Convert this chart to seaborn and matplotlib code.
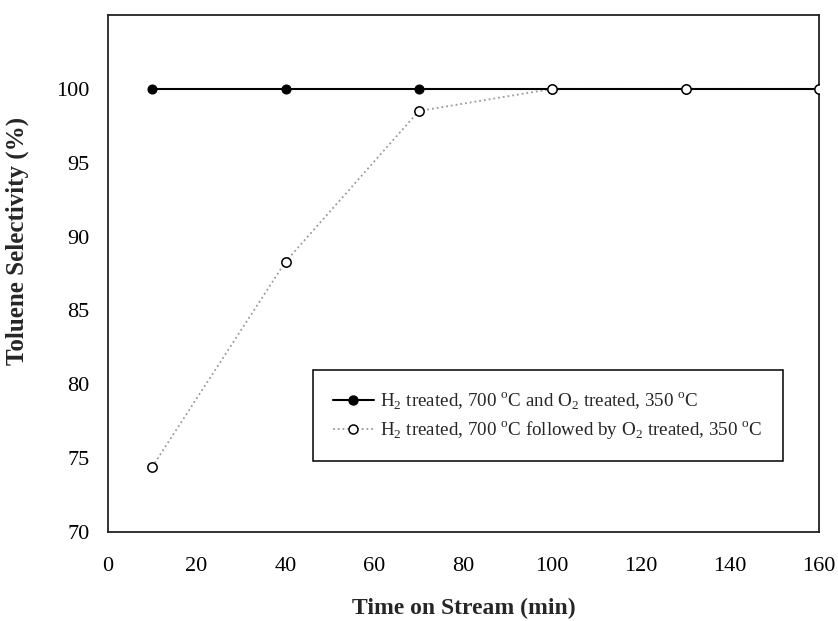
import matplotlib
matplotlib.use("Agg")
import matplotlib.pyplot as plt
from matplotlib.lines import Line2D
import seaborn as sns
import pandas as pd

sns.set_theme(style="white")
plt.rcParams["font.family"] = ["Liberation Serif", "DejaVu Serif"]
plt.rcParams["mathtext.fontset"] = "custom"
plt.rcParams["mathtext.rm"] = "Liberation Serif"

time_min = [10, 40, 70, 100, 130, 160]
sel_combined = [100.0, 100.0, 100.0, 100.0, 100.0, 100.0]
sel_sequential = [74.4, 88.3, 98.5, 100.0, 100.0, 100.0]

label_combined = r"H$_2$ treated, 700 $^{\rm o}$C and O$_2$ treated, 350 $^{\rm o}$C"
label_sequential = r"H$_2$ treated, 700 $^{\rm o}$C followed by O$_2$ treated, 350 $^{\rm o}$C"

x_ticks = [0, 20, 40, 60, 80, 100, 120, 140, 160]
y_ticks = [70, 75, 80, 85, 90, 95, 100]

df = pd.DataFrame({"time": time_min, "combined": sel_combined, "sequential": sel_sequential})

fig = plt.figure(figsize=(8.38, 6.21), dpi=100)
ax = fig.add_axes([0.1285, 0.1433, 0.8488, 0.8325])

# dotted trend of the sequential treatment sits beneath the solid line
sns.lineplot(data=df, x="time", y="sequential", ax=ax, color="#9a9a9a", linewidth=1.3,
             linestyle=":", zorder=2, legend=False)
sns.lineplot(data=df, x="time", y="combined", ax=ax, color="black", linewidth=1.5,
             marker="o", markersize=6.5, markerfacecolor="black", markeredgecolor="black",
             zorder=3, legend=False)
# open circles drawn on top of everything
sns.scatterplot(data=df, x="time", y="sequential", ax=ax, s=45, color="white",
                edgecolor="black", linewidth=1.1, zorder=4, legend=False)

ax.set_xlim(0, 160)
ax.set_ylim(70, 105)
ax.set_xticks(x_ticks)
ax.set_yticks(y_ticks)
ax.tick_params(axis="both", which="both", direction="out", length=4, width=0.9,
               colors="black", labelsize=16)
ax.tick_params(axis="x", pad=14)
ax.tick_params(axis="y", pad=9)
for side in ["left", "bottom", "right", "top"]:
    ax.spines[side].set_visible(True)
    ax.spines[side].set_color("#222222")
    ax.spines[side].set_linewidth(1.3)

ax.set_xlabel("Time on Stream (min)", fontsize=17, fontweight="bold")
ax.xaxis.set_label_coords(0.5, -0.128)
ax.set_ylabel("Toluene Selectivity (%)", fontsize=18, fontweight="bold")
ax.yaxis.set_label_coords(-0.111, 0.563)

handles = [
    Line2D([], [], color="black", linewidth=1.5, marker="o", markersize=6.5,
           markerfacecolor="black", markeredgecolor="black"),
    Line2D([], [], color="#9a9a9a", linewidth=1.3, linestyle=":", marker="o",
           markersize=6.5, markerfacecolor="white", markeredgecolor="black",
           markeredgewidth=1.1),
]
leg = ax.legend(handles, [label_combined, label_sequential], loc="lower right",
                bbox_to_anchor=(0.949, 0.137), fontsize=13.7,
                frameon=True, fancybox=False, edgecolor="black", framealpha=1,
                borderpad=1.05, handlelength=2.15, handletextpad=0.35,
                labelspacing=0.4, borderaxespad=0)
leg.get_frame().set_linewidth(1.1)

fig.savefig("out.png", dpi=100)
